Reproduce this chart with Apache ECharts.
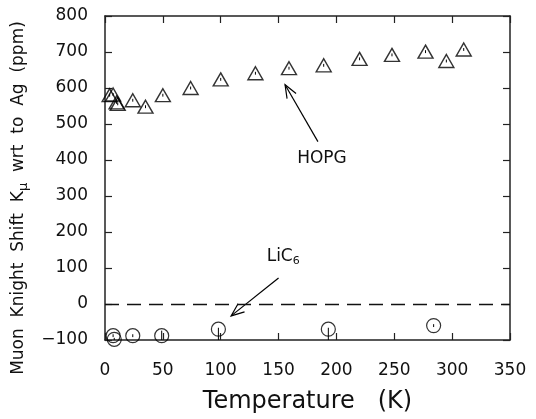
<!DOCTYPE html>
<html><head><meta charset="utf-8">
<script src="https://cdn.jsdelivr.net/npm/echarts@6/dist/echarts.min.js"></script>
<style>html,body{margin:0;padding:0;background:#fff}#c{width:536px;height:419px}</style>
</head><body><div id="c"></div>
<script>
// HOPG (triangles)
var hopgT = [4, 7, 10, 11, 24, 35, 50, 74, 100, 130, 159, 189, 220, 248, 277, 295, 310];
var hopgK = [580, 582, 560, 556, 566, 548, 580, 600, 624, 641, 655, 663, 681, 692, 701, 675, 707];
var hopgErr = [4, 4, 4, 4, 4, 4, 4, 4, 4, 4, 4, 4, 4, 4, 4, 4, 4];
// LiC6 (circles)
var licT = [7, 8, 24, 49, 98, 193, 284];
var licK = [-88, -98, -88, -88, -70, -70, -60];
var licErrLo = [4, 4, 4, 14, 30, 30, 4];
var licErrHi = [4, 4, 4, 14, 4, 4, 4];
// axes
var xMin = 0, xMax = 350, xStep = 50;
var yMin = -100, yMax = 800, yStep = 100;
// annotations (data coordinates)
var hopgArrow = [[184, 451], [155.6, 609]];
var hopgLabel = [187.5, 405];
var licArrow = [[150, 72], [109, -33]];
var licLabel = [154, 132];

var FONT = 'DejaVu Sans';
var chart = echarts.init(document.getElementById('c'));

function pairs(xs, ys) { return xs.map(function (x, i) { return [x, ys[i]]; }); }
function errData(xs, ys, lo, hi) { return xs.map(function (x, i) { return [x, ys[i] - lo[i], ys[i] + hi[i]]; }); }
function errRender(params, api) {
  var a = api.coord([api.value(0), api.value(1)]);
  var b = api.coord([api.value(0), api.value(2)]);
  return { type: 'line', shape: { x1: a[0], y1: a[1], x2: b[0], y2: b[1] },
    style: { stroke: '#000', lineWidth: 1 } };
}
var axisLine = { show: true, onZero: false, lineStyle: { color: '#222', width: 1.5 } };
var tick = { show: true, inside: true, length: 7, lineStyle: { color: '#222', width: 1.2 } };

chart.setOption({
  animation: false,
  grid: { left: 105, right: 26, top: 16, bottom: 78, containLabel: false },
  xAxis: [{
    type: 'value', min: xMin, max: xMax, interval: xStep, position: 'bottom',
    axisLine: axisLine, axisTick: tick, splitLine: { show: false },
    axisLabel: { color: '#111', fontFamily: FONT, fontSize: 17, margin: 22 },
    name: 'Temperature   (K)', nameLocation: 'middle', nameGap: 50,
    nameTextStyle: { color: '#111', fontFamily: FONT, fontSize: 24 }
  }, {
    type: 'value', min: xMin, max: xMax, interval: xStep, position: 'top',
    axisLine: axisLine, axisTick: tick, axisLabel: { show: false }, splitLine: { show: false }
  }],
  yAxis: [{
    type: 'value', min: yMin, max: yMax, interval: yStep, position: 'left',
    axisLine: axisLine, axisTick: tick, splitLine: { show: false },
    axisLabel: { color: '#111', fontFamily: FONT, fontSize: 17, margin: 17,
      formatter: function (v) { return String(v).replace('-', '\u2212'); } },
    name: 'Muon  Knight  Shift  K{s|μ}  wrt  to  Ag  (ppm)', nameLocation: 'middle', nameGap: 71,
    nameTextStyle: { color: '#111', fontFamily: FONT, fontSize: 17, padding: [0, 40, 0, 0],
      rich: { s: { fontFamily: FONT, fontSize: 13, color: '#111', padding: [10, 0, 0, 0] } } }
  }, {
    type: 'value', min: yMin, max: yMax, interval: yStep, position: 'right',
    axisLine: axisLine, axisTick: tick, axisLabel: { show: false }, splitLine: { show: false }
  }],
  series: [{
    name: 'zero', type: 'line', data: [], silent: true,
    markLine: { symbol: 'none', silent: true, label: { show: false },
      lineStyle: { color: '#111', type: [14, 8], width: 1.3 },
      data: [{ yAxis: 0 }] }
  }, {
    name: 'HOPG', type: 'scatter', data: pairs(hopgT, hopgK),
    symbol: 'triangle', symbolSize: [15, 13],
    itemStyle: { color: 'rgba(255,255,255,0)', borderColor: '#000', borderWidth: 1.4 }
  }, {
    name: 'HOPG err', type: 'custom', data: errData(hopgT, hopgK, hopgErr, hopgErr),
    renderItem: errRender, clip: true
  }, {
    name: 'LiC6', type: 'scatter', data: pairs(licT, licK),
    symbol: 'circle', symbolSize: 14,
    itemStyle: { color: 'rgba(255,255,255,0)', borderColor: '#000', borderWidth: 1.2 }
  }, {
    name: 'LiC6 err', type: 'custom', data: errData(licT, licK, licErrLo, licErrHi),
    renderItem: errRender, clip: true
  }]
});

function arrowEls(pts) {
  var a = chart.convertToPixel({ gridIndex: 0 }, pts[0]);
  var b = chart.convertToPixel({ gridIndex: 0 }, pts[1]);
  var ang = Math.atan2(b[1] - a[1], b[0] - a[0]);
  var L = 14, w = 0.38;
  var h1 = [b[0] - L * Math.cos(ang - w), b[1] - L * Math.sin(ang - w)];
  var h2 = [b[0] - L * Math.cos(ang + w), b[1] - L * Math.sin(ang + w)];
  var st = { stroke: '#000', lineWidth: 1.2, fill: null };
  return [
    { type: 'line', shape: { x1: a[0], y1: a[1], x2: b[0], y2: b[1] }, style: st },
    { type: 'polyline', shape: { points: [h1, b, h2] }, style: st }
  ];
}
var hp = chart.convertToPixel({ gridIndex: 0 }, hopgLabel);
var lp = chart.convertToPixel({ gridIndex: 0 }, licLabel);
chart.setOption({
  graphic: arrowEls(hopgArrow).concat(arrowEls(licArrow)).concat([
    { type: 'text', x: hp[0], y: hp[1], style: { text: 'HOPG', fontFamily: FONT, fontSize: 17,
      fill: '#111', align: 'center', verticalAlign: 'middle' } },
    { type: 'text', x: lp[0], y: lp[1], style: { text: 'LiC{s|6}', fontFamily: FONT, fontSize: 17,
      fill: '#111', align: 'center', verticalAlign: 'middle',
      rich: { s: { fontFamily: FONT, fontSize: 11, fill: '#111', padding: [10, 0, 0, 0] } } } }
  ])
});
</script></body></html>
